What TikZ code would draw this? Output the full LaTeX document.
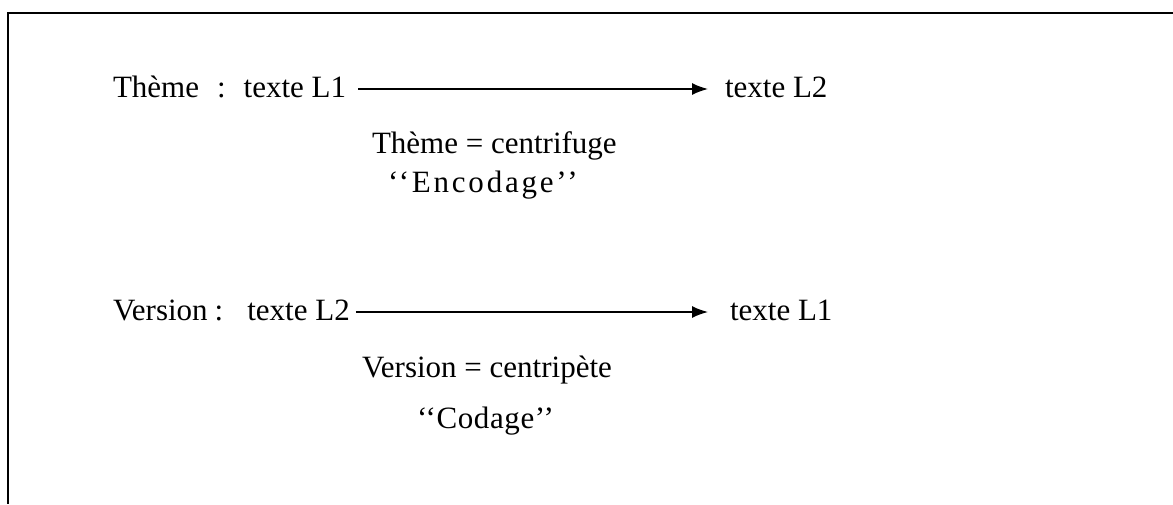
\documentclass[tikz,border=0pt]{standalone}
\usepackage{fontspec}
\setmainfont{Liberation Serif}
\usepackage{tikz}
\usetikzlibrary{arrows.meta, positioning, calc}

\begin{document}
\begin{tikzpicture}[x=0.5pt,y=-0.5pt,every node/.style={inner sep=0pt,outer sep=0pt,font=\fontsize{15.5pt}{18pt}\selectfont,text height=8pt,text depth=0pt}]

\tikzstyle{fleche}=[-{Latex[length=8pt,width=6pt]},line width=0.75pt]
\tikzstyle{cadre}=[line width=1.4pt]

\useasboundingbox (0,0) rectangle (1173,504);

% cadre ouvert
\draw [cadre] (1173,13) -- (8,13) -- (8,504);

% theme
\node (theme) [anchor=base west] at (113,97) {Th\`eme\hspace{9pt}:\hspace{9pt}texte L1};
\node (themeL2) [anchor=base west] at (725,97) {texte L2};
\draw [fleche, shorten <=6pt, shorten >=8.5pt] (theme.east) -- (themeL2.west);

\node (centrifuge) [anchor=base west] at (372,153) {Th\`eme = centrifuge};
\node (encodage) [anchor=base west] at (388,192) {\addfontfeature{LetterSpace=9}{`}{`}Encodage{'}{'}};

% version
\node (version) [anchor=base west] at (113,320) {Version\hspace{3.5pt}:\hspace{12pt}texte L2};
\node (versionL1) [anchor=base west] at (730,320) {texte L1};
\draw [fleche, shorten <=3pt, shorten >=11pt] (version.east) -- (versionL1.west);

\node (centripete) [anchor=base west] at (362,377) {Version = centrip\`ete};
\node (codage) [anchor=base west] at (417,428) {\addfontfeature{LetterSpace=2}{`}{`}Codage{'}{'}};

\end{tikzpicture}
\end{document}
